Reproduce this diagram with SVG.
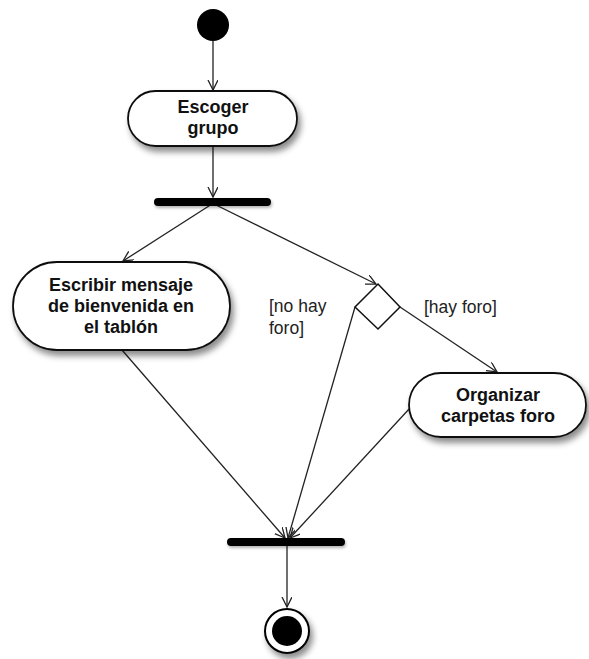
<svg xmlns="http://www.w3.org/2000/svg" width="589" height="659" viewBox="0 0 589 659">
<style>
.node{fill:#fff;stroke:#111;stroke-width:1.8;filter:url(#sh)}
.lbl{font-family:"Liberation Sans",Arial,sans-serif;font-size:18px;font-weight:bold;fill:#111;text-anchor:middle}
.guard{font-family:"Liberation Sans",Arial,sans-serif;font-size:17.5px;fill:#222}
.edge{fill:none;stroke:#222;stroke-width:1.3;marker-end:url(#arr)}
.bar{fill:#000;filter:url(#sh2)}
</style>
<defs>
<filter id="sh" x="-20%" y="-20%" width="150%" height="160%">
<feDropShadow dx="3" dy="5" stdDeviation="3" flood-color="#000" flood-opacity="0.45"/>
</filter>
<filter id="sh2" x="-20%" y="-100%" width="150%" height="400%">
<feDropShadow dx="1" dy="2" stdDeviation="1.5" flood-color="#000" flood-opacity="0.3"/>
</filter>
<marker id="arr" markerWidth="12" markerHeight="12" refX="10" refY="5" orient="auto" markerUnits="userSpaceOnUse">
<path d="M0,0 L10,5 L0,10" fill="none" stroke="#222" stroke-width="1.3"/>
</marker>
</defs>
<rect width="589" height="659" fill="#fff"/>
<g id="connectors">
<line class="edge" x1="213" y1="41" x2="213" y2="90"/>
<line class="edge" x1="213" y1="146" x2="213" y2="197"/>
<line class="edge" x1="212" y1="204" x2="123" y2="261"/>
<line class="edge" x1="214" y1="204" x2="376" y2="284"/>
<line class="edge" x1="400" y1="307" x2="497" y2="372"/>
<line class="edge" x1="122" y1="350" x2="285" y2="538"/>
<line class="edge" x1="355" y1="307" x2="288" y2="538"/>
<line class="edge" x1="410" y1="408" x2="290" y2="538"/>
<line class="edge" x1="287" y1="546" x2="287" y2="607"/>
</g>
<g id="start"><circle cx="213" cy="25" r="16" fill="#000"/></g>
<g id="escoger">
<rect class="node" x="128" y="91" width="169" height="55" rx="27.5"/>
<text class="lbl" x="213" y="113">Escoger</text>
<text class="lbl" x="213" y="134">grupo</text>
</g>
<g id="fork"><rect class="bar" x="154" y="198" width="117" height="8" rx="4"/></g>
<g id="escribir">
<rect class="node" x="13" y="262" width="217" height="88" rx="44"/>
<text class="lbl" x="121" y="291">Escribir mensaje</text>
<text class="lbl" x="121" y="312">de bienvenida en</text>
<text class="lbl" x="121" y="333">el tablón</text>
</g>
<g id="decision">
<polygon points="378,284 400,307 378,329 355,307" fill="#fff" stroke="#111" stroke-width="1.5"/>
</g>
<g id="guards">
<text class="guard" x="269" y="312">[no hay</text>
<text class="guard" x="269" y="334">foro]</text>
<text class="guard" x="424" y="313">[hay foro]</text>
</g>
<g id="organizar">
<rect class="node" x="409" y="373" width="177" height="64" rx="32"/>
<text class="lbl" x="498" y="401">Organizar</text>
<text class="lbl" x="498" y="422">carpetas foro</text>
</g>
<g id="join"><rect class="bar" x="227" y="538" width="118" height="8" rx="4"/></g>
<g id="end">
<circle cx="287" cy="631" r="22" fill="#fff" stroke="#000" stroke-width="2" filter="url(#sh)"/>
<circle cx="287" cy="631" r="15" fill="#000"/>
</g>
</svg>
